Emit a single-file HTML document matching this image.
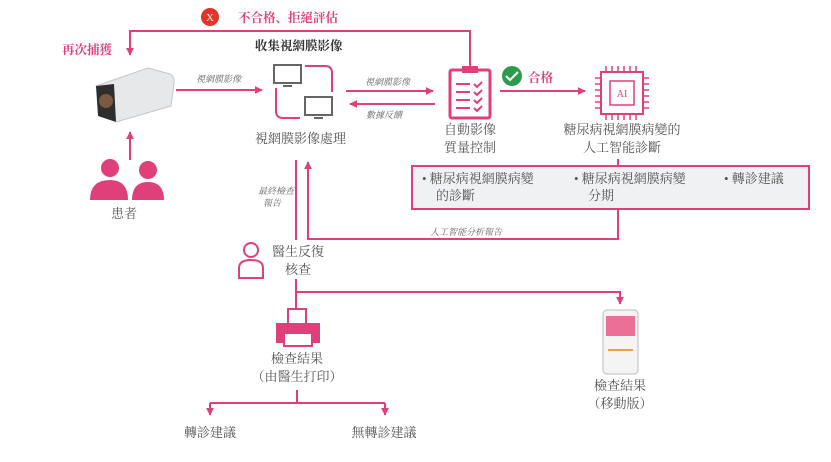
<!DOCTYPE html>
<html><head><meta charset="utf-8"><style>
html,body{margin:0;padding:0;background:#fff;}
svg{display:block;}
text{font-family:"Liberation Serif","Noto Serif CJK SC","Noto Sans CJK TC",serif;}
.g{fill:#555;font-size:13px;}
.it{fill:#666;font-size:9px;font-style:italic;}
.p{fill:#e0407a;}
</style></head><body>
<svg width="831" height="462" viewBox="0 0 831 462" xmlns="http://www.w3.org/2000/svg">
<defs><marker id="a" viewBox="0 0 10 10" refX="9" refY="5" markerWidth="4" markerHeight="4" orient="auto"><path d="M0,0L10,5L0,10z" fill="#e0407a"/></marker></defs>
<g stroke="#e0407a" stroke-width="2" fill="none">
<path d="M470 66V31H130V55" marker-end="url(#a)"/>
<path d="M176 90H262" marker-end="url(#a)"/>
<path d="M346 91H433" marker-end="url(#a)"/>
<path d="M435 104H350" marker-end="url(#a)"/>
<path d="M500 91H585" marker-end="url(#a)"/>
<path d="M130 160V132" marker-end="url(#a)"/>
<path d="M305 66H325Q332 66 332 73V92"/>
<path d="M276 88V111Q276 118 283 118H300"/>
<path d="M618 159V166"/>
<path d="M618 209V239H308V162" marker-end="url(#a)"/>
<path d="M296 160V240"/>
<path d="M296 279V310"/>
<path d="M296 292H620V304" marker-end="url(#a)"/>
<path d="M297 390V403"/>
<path d="M210 403H385"/>
<path d="M210 403V415" marker-end="url(#a)"/>
<path d="M385 403V415" marker-end="url(#a)"/>
</g>
<circle cx="210" cy="17" r="9" fill="#e2342a"/>
<text x="210" y="21" font-size="11" fill="#fff" text-anchor="middle">X</text>
<text x="238" y="22" class="p" font-size="12.5" font-weight="bold">不合格、拒絕評估</text>
<text x="62" y="54" class="p" font-size="12.5" font-weight="bold">再次捕獲</text>
<text x="255" y="50" font-size="12.5" font-weight="bold" fill="#333">收集視網膜影像</text>
<!-- camera -->
<path d="M96 86L148 68L170 74Q175 77 174 84L171 106L116 122Z" fill="#e6e8ea" stroke="#c4c6c8"/>
<path d="M96 86L114 84L116 122L98 116Z" fill="#2e2e2e"/>
<circle cx="106" cy="101" r="7" fill="#7a5a40"/>
<text x="196" y="82" class="it">視網膜影像</text>
<!-- monitors -->
<rect x="274" y="65" width="27" height="18" fill="none" stroke="#666" stroke-width="2"/>
<path d="M283 86H292" stroke="#666" stroke-width="2"/>
<rect x="305" y="97" width="27" height="18" fill="none" stroke="#666" stroke-width="2"/>
<path d="M314 118H323" stroke="#666" stroke-width="2"/>
<text x="255" y="143" class="g">視網膜影像處理</text>
<text x="365" y="85" class="it">視網膜影像</text>
<text x="366" y="118" class="it">數據反饋</text>
<!-- clipboard -->
<rect x="450" y="70" width="40" height="48" rx="2" fill="none" stroke="#e0407a" stroke-width="3"/>
<rect x="462" y="66" width="16" height="7" fill="#e0407a"/>
<g stroke="#e0407a" stroke-width="2"><path d="M456 84H470M456 92H470M456 100H470M456 108H470"/><path d="M474 84l3 3 5-5M474 92l3 3 5-5M474 100l3 3 5-5M474 108l3 3 5-5" fill="none"/></g>
<text x="470" y="134" class="g" text-anchor="middle">自動影像</text>
<text x="470" y="152" class="g" text-anchor="middle">質量控制</text>
<circle cx="512" cy="76" r="10" fill="#2e9a4e"/>
<path d="M506 76l4 4 8-8" stroke="#fff" stroke-width="2" fill="none"/>
<text x="528" y="82" class="p" font-size="12.5" font-weight="bold">合格</text>
<!-- chip -->
<rect x="601" y="72" width="42" height="42" fill="none" stroke="#e0407a" stroke-width="2"/>
<rect x="610" y="81" width="24" height="24" fill="none" stroke="#e0407a" stroke-width="1.5"/>
<text x="622" y="97" font-size="10" fill="#e0407a" text-anchor="middle">AI</text>
<g stroke="#e0407a" stroke-width="1.5"><path d="M606 66v6M612 66v6M618 66v6M624 66v6M630 66v6M636 66v6M606 114v6M612 114v6M618 114v6M624 114v6M630 114v6M636 114v6M595 78h6M595 84h6M595 90h6M595 96h6M595 102h6M595 108h6M643 78h6M643 84h6M643 90h6M643 96h6M643 102h6M643 108h6"/></g>
<text x="622" y="134" class="g" text-anchor="middle">糖尿病視網膜病變的</text>
<text x="622" y="152" class="g" text-anchor="middle">人工智能診斷</text>
<rect x="412" y="166" width="397" height="43" fill="#f0f1f3" stroke="#e0407a" stroke-width="2"/>
<g class="g"><text x="422" y="183">•  糖尿病視網膜病變</text><text x="436" y="200">的診斷</text>
<text x="574" y="183">•  糖尿病視網膜病變</text><text x="588" y="200">分期</text>
<text x="724" y="183">•  轉診建議</text></g>
<text x="430" y="235" class="it">人工智能分析報告</text>
<text x="258" y="194" class="it">最終檢查</text>
<text x="263" y="206" class="it">報告</text>
<!-- patients -->
<g class="p"><circle cx="110" cy="168" r="9"/><path d="M90 200Q90 180 110 180Q128 180 128 200Z"/><circle cx="148" cy="170" r="9"/><path d="M132 200Q132 182 148 182Q164 182 164 200Z"/></g>
<text x="124" y="218" class="g" text-anchor="middle">患者</text>
<!-- doctor -->
<circle cx="251" cy="250" r="7" fill="none" stroke="#e0407a" stroke-width="2"/>
<path d="M239 278V268Q239 260 251 260Q263 260 263 268V278Z" fill="none" stroke="#e0407a" stroke-width="2"/>
<text x="272" y="256" class="g">醫生反復</text>
<text x="285" y="274" class="g">核查</text>
<!-- printer -->
<rect x="288" y="309" width="18" height="16" fill="none" stroke="#e0407a" stroke-width="2"/>
<rect x="276" y="323" width="44" height="20" fill="#e0407a"/>
<rect x="284" y="333" width="28" height="13" fill="#fff" stroke="#e0407a" stroke-width="2"/>
<text x="297" y="363" class="g" text-anchor="middle">檢查結果</text>
<text x="297" y="381" class="g" text-anchor="middle">（由醫生打印）</text>
<text x="210" y="437" class="g" text-anchor="middle">轉診建議</text>
<text x="384" y="437" class="g" text-anchor="middle">無轉診建議</text>
<!-- phone -->
<rect x="603" y="310" width="35" height="64" rx="4" fill="#f4f4f4" stroke="#bbb"/>
<rect x="606" y="316" width="29" height="20" fill="#ec6f98"/>
<path d="M608 350h25" stroke="#e8a040" stroke-width="2"/>
<text x="620" y="390" class="g" text-anchor="middle">檢查結果</text>
<text x="620" y="408" class="g" text-anchor="middle">（移動版）</text>
</svg>
</body></html>
